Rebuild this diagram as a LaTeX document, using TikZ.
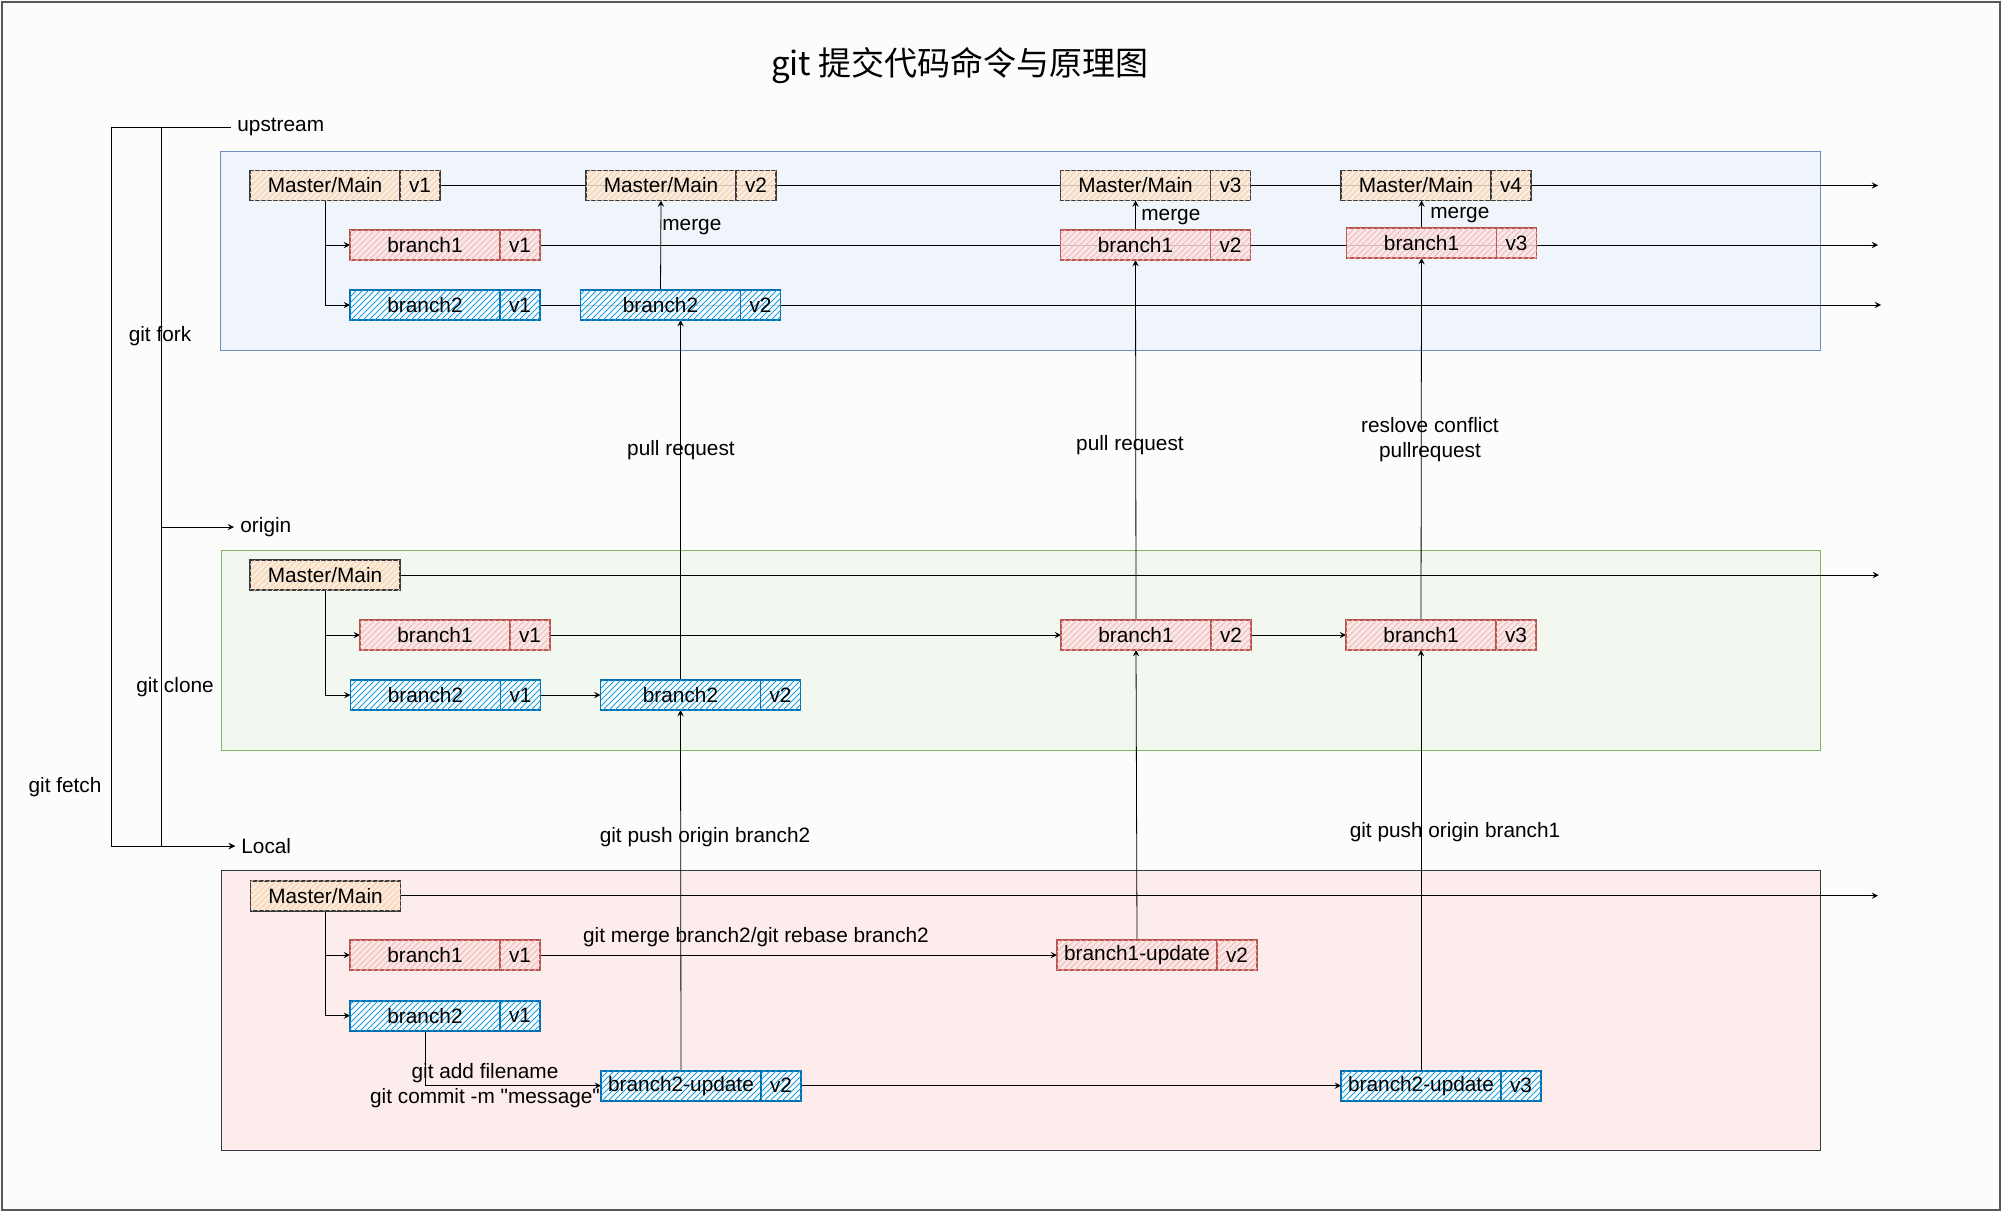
\documentclass[tikz,border=0pt]{standalone}
\usepackage{fontspec}
\setmainfont{Liberation Sans}
\newfontfamily\labelfont{Liberation Sans}
\newfontfamily\cjk{Noto Sans CJK SC}
\usepackage{tikz}
\usetikzlibrary{positioning,patterns}

\definecolor{paper}{HTML}{FCFCFA}
\definecolor{framecol}{HTML}{55575B}
\definecolor{upline}{HTML}{6C8EBF}
\definecolor{upfill}{HTML}{F0F4FB}
\definecolor{orline}{HTML}{82B366}
\definecolor{orfill}{HTML}{F2F7F0}
\definecolor{loline}{HTML}{36393D}
\definecolor{lofill}{HTML}{FCEDEC}
\definecolor{mainline}{HTML}{36393D}
\definecolor{mainfill}{HTML}{FCEBDA}
\definecolor{mainhatch}{HTML}{F5CDA6}
\definecolor{bonefill}{HTML}{FAE6E5}
\definecolor{boneline}{HTML}{B85450}
\definecolor{bonehatch}{HTML}{F1B8B5}
\definecolor{btwoline}{HTML}{006EAF}
\definecolor{btwohatch}{HTML}{1BA1E2}

\pgfdeclarelayer{back}
\pgfdeclarelayer{wires}
\pgfsetlayers{back,wires,main}

\tikzset{
  txt/.style={font=\labelfont\fontsize{10.4}{12.5}\selectfont},
  cell/.style={txt, draw, line width=0.8pt, minimum height=15pt, inner sep=0pt,
    outer sep=0pt, fill opacity=0.8, text opacity=1},
  namecell/.style={cell, minimum width=75pt},
  widecell/.style={cell, minimum width=80pt},
  vcell/.style={cell, minimum width=20pt},
  mainc/.style={draw=mainline, fill=mainfill,
    postaction={pattern=north east lines, pattern color=mainhatch}},
  bonec/.style={draw=boneline, fill=bonefill,
    postaction={pattern=north east lines, pattern color=bonehatch}},
  btwoc/.style={draw=btwoline, fill=white,
    postaction={pattern=north east lines, pattern color=btwohatch}},
  lbl/.style={txt, inner sep=3pt},
}

\begin{document}
\begin{tikzpicture}[x=0.5pt, y=-0.5pt, >=stealth, line width=0.75pt]
  \useasboundingbox (0,0) rectangle (2001,1211);

  \begin{pgfonlayer}{back}
    \fill[paper] (0,0) rectangle (2001,1211);
    \draw[framecol, line width=1pt] (1.5,1.5) rectangle (1999.5,1209.5);
    % repositories
    \draw[upline, fill=upfill] (220,151) rectangle (1820,350);
    \draw[orline, fill=orfill] (221,550) rectangle (1820,750);
    \draw[loline, fill=lofill] (221,870) rectangle (1820,1150);
  \end{pgfonlayer}

  \node[font=\cjk\fontsize{16.5}{20}\selectfont] (title) at (960,66) {git 提交代码命令与原理图};

  % upstream
  \node[namecell, mainc] (upm1) at (325,185.5) {Master/Main};
  \node[vcell, mainc, right=0pt of upm1] (upm1v) {v1};
  \node[namecell, mainc] (upm2) at (661,185.5) {Master/Main};
  \node[vcell, mainc, right=0pt of upm2] (upm2v) {v2};
  \node[namecell, mainc] (upm3) at (1135.5,185.5) {Master/Main};
  \node[vcell, mainc, right=0pt of upm3] (upm3v) {v3};
  \node[namecell, mainc] (upm4) at (1416,185.5) {Master/Main};
  \node[vcell, mainc, right=0pt of upm4] (upm4v) {v4};
  \node[namecell, bonec] (upb1a) at (425,245) {branch1};
  \node[vcell, bonec, right=0pt of upb1a] (upb1av) {v1};
  \node[namecell, bonec] (upb1b) at (1135.5,245) {branch1};
  \node[vcell, bonec, right=0pt of upb1b] (upb1bv) {v2};
  \node[namecell, bonec] (upb1c) at (1421.5,243) {branch1};
  \node[vcell, bonec, right=0pt of upb1c] (upb1cv) {v3};
  \node[namecell, btwoc] (upb2a) at (425,305) {branch2};
  \node[vcell, btwoc, right=0pt of upb2a] (upb2av) {v1};
  \node[widecell, btwoc] (upb2b) at (660.5,305) {branch2};
  \node[vcell, btwoc, right=0pt of upb2b] (upb2bv) {v2};

  % origin
  \node[namecell, mainc] (orm) at (325,575) {Master/Main};
  \node[namecell, bonec] (orb1a) at (435,635) {branch1};
  \node[vcell, bonec, right=0pt of orb1a] (orb1av) {v1};
  \node[namecell, bonec] (orb1b) at (1136,635) {branch1};
  \node[vcell, bonec, right=0pt of orb1b] (orb1bv) {v2};
  \node[namecell, bonec] (orb1c) at (1421,635) {branch1};
  \node[vcell, bonec, right=0pt of orb1c] (orb1cv) {v3};
  \node[namecell, btwoc] (orb2a) at (425.5,695) {branch2};
  \node[vcell, btwoc, right=0pt of orb2a] (orb2av) {v1};
  \node[widecell, btwoc] (orb2b) at (680.5,695) {branch2};
  \node[vcell, btwoc, right=0pt of orb2b] (orb2bv) {v2};

  % local
  \node[namecell, mainc] (lom) at (325.5,895.7) {Master/Main};
  \node[namecell, bonec] (lob1) at (425,955) {branch1};
  \node[vcell, bonec, right=0pt of lob1] (lob1v) {v1};
  \node[namecell, btwoc] (lob2) at (425,1015.7) {branch2};
  \node[vcell, btwoc, right=0pt of lob2] (lob2v) {v1};
  \node[widecell, bonec] (lob1u) at (1137,955) {branch1-update};
  \node[vcell, bonec, right=0pt of lob1u] (lob1uv) {v2};
  \node[widecell, btwoc] (lob2u) at (681,1085.7) {branch2-update};
  \node[vcell, btwoc, right=0pt of lob2u] (lob2uv) {v2};
  \node[widecell, btwoc] (lob2w) at (1421,1085.7) {branch2-update};
  \node[vcell, btwoc, right=0pt of lob2w] (lob2wv) {v3};

  % repo names and left side
  \node[lbl, anchor=west] (upstream) at (231,127) {upstream};
  \node[lbl, anchor=west] (origin) at (234,527) {origin};
  \node[lbl, anchor=west] (local) at (235,846) {Local};
  \coordinate (fork) at (161,0);
  \coordinate (fetch) at (111,0);
  \node[lbl] (forklbl) at (160,336) {git fork};
  \node[lbl] (clonelbl) at (175,687) {git clone};
  \node[lbl] (fetchlbl) at (65,787) {git fetch};

  % line ends
  \coordinate (upmend) at (1878,185.5);
  \coordinate (upb1end) at (1878,245);
  \coordinate (upb2end) at (1881,305);
  \coordinate (ormend) at (1879,575);
  \coordinate (lomend) at (1878,895.7);

  \begin{pgfonlayer}{wires}
    \draw (upstream.west) -- (upstream.west -| fetch);
    \draw[->] (upstream.west -| fetch) |- (local.west);
    \draw[->] (upstream.west -| fork) |- (origin.west);
    \draw[->] (origin.west -| fork) |- (local.west);

    \draw[->] (upm1v.east) -- (upmend);
    \draw[->] (upb1av.east) -- (upb1end);
    \draw[->] (upb2av.east) -- (upb2end);
    \draw[->] (upm1.south) |- (upb1a.west);
    \draw[->] (upm1.south) |- (upb2a.west);
    \draw[->] (upb2b.north) -- (upm2.south);
    \draw[->] (upb1b.north) -- (upm3.south);
    \draw[->] (upb1c.north) -- (upb1c.north |- upm4.south);

    \draw[->] (orm.east) -- (ormend);
    \draw[->] (orm.south) |- (orb1a.west);
    \draw[->] (orm.south) |- (orb2a.west);
    \draw[->] (orb1av.east) -- (orb1b.west);
    \draw[->] (orb1bv.east) -- (orb1c.west);
    \draw[->] (orb2av.east) -- (orb2b.west);
    \draw[->] (orb2b.north) -- (orb2b.north |- upb2b.south);
    \draw[->] (orb1b.north) -- (upb1b.south);
    \draw[->] (orb1c.north) -- (upb1c.south);

    \draw[->] (lom.east) -- (lomend);
    \draw[->] (lom.south) |- (lob1.west);
    \draw[->] (lom.south) |- (lob2.west);
    \draw[->] (lob1v.east) -- (lob1u.west);
    \draw[->] (lob2.south) |- (lob2u.west);
    \draw[->] (lob2uv.east) -- (lob2w.west);
    \draw[->] (lob2u.north) -- (orb2b.south);
    \draw[->] (lob1u.north) -- (orb1b.south);
    \draw[->] (lob2w.north) -- (orb1c.south);
  \end{pgfonlayer}

  % connector labels
  \node[lbl, anchor=west] (merge1) at (656,227) {merge};
  \node[lbl, anchor=west] (merge2) at (1135,217) {merge};
  \node[lbl, anchor=west] (merge3) at (1424,215) {merge};
  \node[lbl] (pull1) at (681,450) {pull request};
  \node[lbl] (pull2) at (1130,445) {pull request};
  \node[lbl, align=center] (pull3) at (1430,440) {reslove conflict\\pullrequest};
  \node[lbl] (push1) at (705,837) {git push origin branch2};
  \node[lbl] (push2) at (1455,832) {git push origin branch1};
  \node[lbl] (mergecmd) at (756,937) {git merge branch2/git rebase branch2};
  \node[lbl, align=center] (commitcmd) at (485,1085.5) {git add filename\\git commit -m "message"};
\end{tikzpicture}
\end{document}
